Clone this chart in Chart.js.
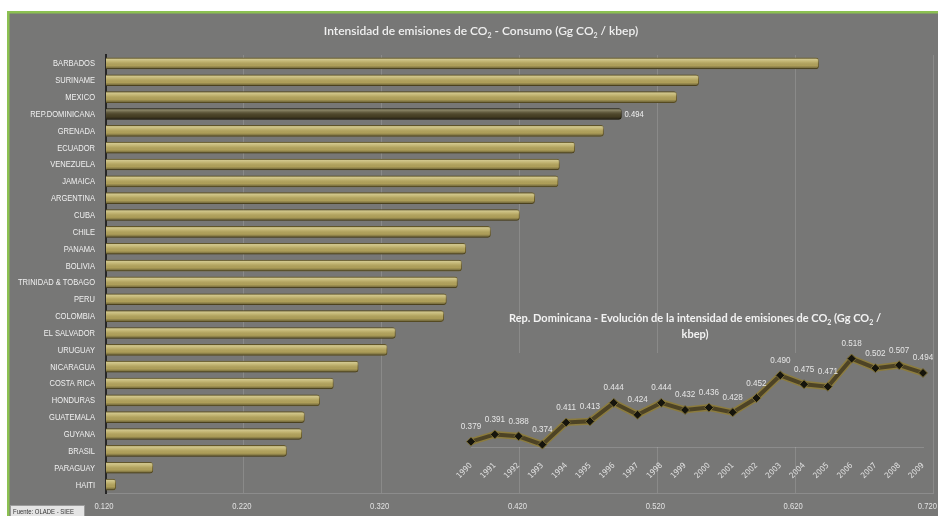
<!DOCTYPE html>
<html>
<head>
<meta charset="utf-8">
<script src="https://cdn.jsdelivr.net/npm/chart.js@4.4.1/dist/chart.umd.min.js"></script>
<style>
  html, body { margin: 0; padding: 0; background: #ffffff; }
  #wrap { position: relative; width: 938px; height: 516px; overflow: hidden; }
  #main { position: absolute; left: 0; top: 0; }
  #inset { position: absolute; left: 440px; top: 300px; }
</style>
</head>
<body>
<div id="wrap">
  <canvas id="main" width="938" height="516"></canvas>
  <canvas id="inset" width="495" height="190"></canvas>
</div>
<script>
// ---------- data ----------
const countries = ['BARBADOS','SURINAME','MEXICO','REP.DOMINICANA','GRENADA','ECUADOR','VENEZUELA','JAMAICA','ARGENTINA','CUBA','CHILE','PANAMA','BOLIVIA','TRINIDAD & TOBAGO','PERU','COLOMBIA','EL SALVADOR','URUGUAY','NICARAGUA','COSTA RICA','HONDURAS','GUATEMALA','GUYANA','BRASIL','PARAGUAY','HAITI'];
const intensity = [0.637,0.550,0.534,0.494,0.481,0.460,0.449,0.448,0.431,0.420,0.399,0.381,0.378,0.375,0.367,0.365,0.330,0.324,0.303,0.285,0.275,0.264,0.262,0.251,0.154,0.127];
const xTicks = [0.12,0.22,0.32,0.42,0.52,0.62,0.72];
const highlightCountry = 'REP.DOMINICANA';
const highlightLabel = '0.494';
const years = ['1990','1991','1992','1993','1994','1995','1996','1997','1998','1999','2000','2001','2002','2003','2004','2005','2006','2007','2008','2009'];
const domSeries = [0.379,0.391,0.388,0.374,0.411,0.413,0.444,0.424,0.444,0.432,0.436,0.428,0.452,0.490,0.475,0.471,0.518,0.502,0.507,0.494];
const mainTitle = [{t:'Intensidad de emisiones de CO'},{t:'2',sub:true},{t:' - Consumo (Gg CO'},{t:'2',sub:true},{t:' / kbep)'}];
const insetTitle1 = [{t:'Rep. Dominicana - Evolución de la intensidad de emisiones de CO'},{t:'2',sub:true},{t:' (Gg CO'},{t:'2',sub:true},{t:' /'}];
const insetTitle2 = [{t:'kbep)'}];
const sourceText = 'Fuente: OLADE - SIEE';

// ---------- styles ----------
const BG = '#777776';
const GREEN = '#8cc152';
const GOLD = '#b5a55d';
const DARK = '#4a4226';
const TXT = '#f0f0f0';
const NARROW = '"Liberation Sans Narrow", "DejaVu Sans Condensed", Arial, sans-serif';
const LABELF = '"Liberation Sans", Arial, sans-serif';
const TITLEF = 'Lato, "Open Sans", sans-serif';

function drawRich(ctx, parts, cx, y, size, weight, color) {
  const fontMain = weight + ' ' + size + 'px ' + TITLEF;
  const fontSub = weight + ' ' + Math.round(size * 0.62) + 'px ' + TITLEF;
  let total = 0;
  parts.forEach(p => { ctx.font = p.sub ? fontSub : fontMain; total += ctx.measureText(p.t).width; });
  let x = cx - total / 2;
  ctx.fillStyle = color;
  ctx.textAlign = 'left';
  ctx.textBaseline = 'alphabetic';
  parts.forEach(p => {
    ctx.font = p.sub ? fontSub : fontMain;
    ctx.fillText(p.t, x, p.sub ? y + size * 0.25 : y);
    x += ctx.measureText(p.t).width;
  });
}

// draw text squeezed horizontally to mimic a condensed face
function drawSqueezed(ctx, text, x, y, sx, align) {
  ctx.save();
  ctx.translate(x, y);
  ctx.scale(sx, 1);
  ctx.textAlign = align;
  ctx.fillText(text, 0, 0);
  ctx.restore();
}

const mainDecor = {
  id: 'mainDecor',
  beforeDraw(chart) {
    const ctx = chart.ctx;
    ctx.save();
    ctx.fillStyle = '#ffffff';
    ctx.fillRect(0, 0, 938, 516);
    ctx.fillStyle = BG;
    ctx.fillRect(9, 13, 929, 503);
    ctx.fillStyle = GREEN;
    ctx.fillRect(7, 11, 931, 2.5);
    ctx.fillRect(7, 11, 2.5, 505);
    ctx.restore();
  },
  afterDatasetsDraw(chart) {
    const ctx = chart.ctx;
    const meta = chart.getDatasetMeta(0);
    const areaLeft = chart.chartArea.left;
    ctx.save();
    meta.data.forEach((bar, i) => {
      const top = bar.y - bar.height / 2, h = bar.height;
      const left = Math.max(bar.base, areaLeft), w = bar.x - left;
      const g = ctx.createLinearGradient(0, top, 0, top + h);
      g.addColorStop(0, 'rgba(0,0,0,0.25)');
      g.addColorStop(0.12, 'rgba(255,255,220,0.38)');
      g.addColorStop(0.35, 'rgba(255,255,220,0.14)');
      g.addColorStop(0.7, 'rgba(0,0,0,0.04)');
      g.addColorStop(1, 'rgba(0,0,0,0.45)');
      ctx.beginPath();
      if (ctx.roundRect) ctx.roundRect(left, top, w, h, [0, 3, 3, 0]); else ctx.rect(left, top, w, h);
      ctx.fillStyle = g;
      ctx.fill();
      if (countries[i] === highlightCountry) {
        ctx.font = '9px ' + LABELF;
        ctx.fillStyle = TXT;
        ctx.textBaseline = 'middle';
        drawSqueezed(ctx, highlightLabel, bar.x + 3, bar.y + 1, 0.85, 'left');
      }
    });
    ctx.restore();
  },
  afterDraw(chart) {
    const ctx = chart.ctx;
    const yScale = chart.scales.y;
    const xScale = chart.scales.x;
    ctx.save();
    // category labels (condensed look)
    ctx.font = '9px ' + LABELF;
    const widest = Math.max(...countries.map(c => ctx.measureText(c).width));
    const sx = Math.min(1, 77 / widest);
    ctx.fillStyle = TXT;
    ctx.textBaseline = 'middle';
    countries.forEach((c, i) => {
      drawSqueezed(ctx, c, 95, yScale.getPixelForTick(i) + 0.5, sx, 'right');
    });
    // value axis labels
    ctx.fillStyle = '#e2e2e2';
    xTicks.forEach(v => {
      const txt = v.toFixed(3);
      const w = ctx.measureText(txt).width * 0.85;
      const cx = Math.min(xScale.getPixelForValue(v) - 2, 937 - w / 2);
      drawSqueezed(ctx, txt, cx, 507, 0.85, 'center');
    });
    drawRich(ctx, mainTitle, 481, 35, 12, '600', TXT);
    ctx.fillStyle = '#e4e4e4';
    ctx.fillRect(10, 505, 74, 11);
    ctx.strokeStyle = '#9a9a9a';
    ctx.lineWidth = 1;
    ctx.strokeRect(10.5, 505.5, 74, 11);
    ctx.font = '7px ' + LABELF;
    ctx.fillStyle = '#333';
    ctx.textBaseline = 'alphabetic';
    drawSqueezed(ctx, sourceText, 13, 514, 0.85, 'left');
    ctx.restore();
  }
};

new Chart(document.getElementById('main'), {
  type: 'bar',
  data: {
    labels: countries,
    datasets: [{
      data: intensity,
      backgroundColor: c => countries[c.dataIndex] === highlightCountry ? DARK : GOLD,
      borderColor: c => countries[c.dataIndex] === highlightCountry ? '#2e2914' : '#6d5f2c',
      borderWidth: 1,
      borderRadius: { topRight: 3, bottomRight: 3 },
      borderSkipped: 'start',
      barThickness: 11
    }]
  },
  options: {
    indexAxis: 'y',
    responsive: false,
    animation: false,
    events: [],
    layout: { padding: { top: 55, right: 5, left: 0, bottom: 0 } },
    plugins: { legend: { display: false }, tooltip: { enabled: false }, title: { display: false } },
    scales: {
      x: {
        type: 'linear',
        min: 0.12, max: 0.72,
        afterBuildTicks: s => { s.ticks = xTicks.map(v => ({ value: v })); },
        afterFit: s => { s.height = 23; s.paddingLeft = 0; s.paddingRight = 0; },
        ticks: { display: false, autoSkip: false },
        grid: { color: 'rgba(255,255,255,0.14)', drawTicks: false, lineWidth: 1 },
        border: { color: 'rgba(255,255,255,0.16)' }
      },
      y: {
        type: 'category',
        afterFit: s => { s.width = 106; s.paddingTop = 0; s.paddingBottom = 0; },
        ticks: { display: false, autoSkip: false },
        grid: { display: false },
        border: { color: '#262626', width: 2 }
      }
    }
  },
  plugins: [mainDecor]
});

const insetDecor = {
  id: 'insetDecor',
  beforeDatasetsDraw(chart) {
    const ctx = chart.ctx;
    ctx.save();
    ctx.fillStyle = BG;
    ctx.fillRect(5, 53, 480, 94);
    ctx.restore();
  },
  afterDatasetsDraw(chart) {
    const ctx = chart.ctx;
    const meta = chart.getDatasetMeta(1);
    ctx.save();
    ctx.font = '9px ' + LABELF;
    ctx.fillStyle = '#e6e6e6';
    ctx.textBaseline = 'middle';
    meta.data.forEach((pt, i) => {
      drawSqueezed(ctx, domSeries[i].toFixed(3), pt.x, pt.y - 15, 0.9, 'center');
    });
    ctx.restore();
  },
  afterDraw(chart) {
    const ctx = chart.ctx;
    ctx.save();
    drawRich(ctx, insetTitle1, 255, 22, 11, 'bold', '#f2f2f2');
    drawRich(ctx, insetTitle2, 255, 38, 11, 'bold', '#f2f2f2');
    ctx.restore();
  }
};

new Chart(document.getElementById('inset'), {
  type: 'line',
  data: {
    labels: years,
    datasets: [
      { data: domSeries, order: 2, borderColor: '#8c7c3e', borderWidth: 7, pointRadius: 0, tension: 0, clip: false },
      { data: domSeries, order: 1, borderColor: '#4d4325', borderWidth: 4, tension: 0, clip: false,
        pointStyle: 'rectRot', pointRadius: 4.5, pointBackgroundColor: '#15140c', pointBorderColor: '#7a6c34', pointBorderWidth: 1 }
    ]
  },
  options: {
    responsive: false,
    animation: false,
    events: [],
    layout: { padding: { left: 31, right: 12, top: 39.5, bottom: 0 } },
    plugins: { legend: { display: false }, tooltip: { enabled: false } },
    scales: {
      x: {
        type: 'category',
        offset: false,
        afterFit: s => { s.height = 43; s.paddingLeft = 0; s.paddingRight = 0; },
        ticks: { color: '#e0e0e0', font: { size: 8, family: NARROW }, maxRotation: 45, minRotation: 45, padding: 6, autoSkip: false },
        grid: { display: false },
        border: { color: 'rgba(255,255,255,0.16)' }
      },
      y: { display: false, min: 0.37, max: 0.55 }
    }
  },
  plugins: [insetDecor]
});
</script>
</body>
</html>
